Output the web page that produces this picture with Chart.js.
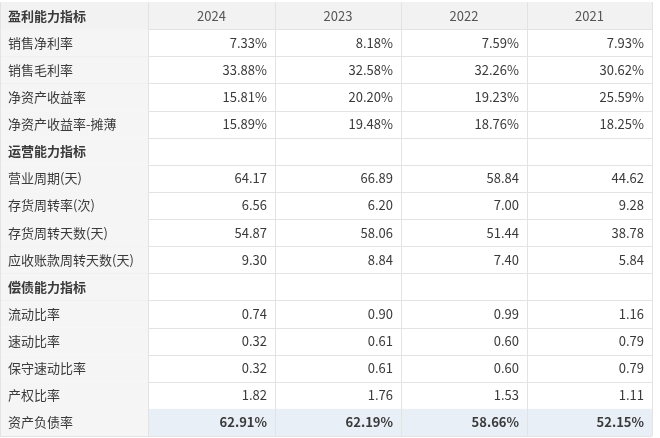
<!DOCTYPE html>
<html><head><meta charset="utf-8">
<script src="https://cdn.jsdelivr.net/npm/chart.js@4"></script>
<style>html,body{margin:0;background:#fff}#wrap{width:660px;height:438px}</style>
</head><body><div id="wrap"><canvas id="c"></canvas></div>
<script>
const years = ['2024', '2023', '2022', '2021'];
const rowLabels = ['盈利能力指标', '销售净利率', '销售毛利率', '净资产收益率', '净资产收益率-摊薄',
  '运营能力指标', '营业周期(天)', '存货周转率(次)', '存货周转天数(天)', '应收账款周转天数(天)',
  '偿债能力指标', '流动比率', '速动比率', '保守速动比率', '产权比率', '资产负债率'];
const sectionRows = [0, 5, 10];
const v2024 = ['', '7.33%', '33.88%', '15.81%', '15.89%', '', '64.17', '6.56', '54.87', '9.30', '', '0.74', '0.32', '0.32', '1.82', '62.91%'];
const v2023 = ['', '8.18%', '32.58%', '20.20%', '19.48%', '', '66.89', '6.20', '58.06', '8.84', '', '0.90', '0.61', '0.61', '1.76', '62.19%'];
const v2022 = ['', '7.59%', '32.26%', '19.23%', '18.76%', '', '58.84', '7.00', '51.44', '7.40', '', '0.99', '0.60', '0.60', '1.53', '58.66%'];
const v2021 = ['', '7.93%', '30.62%', '25.59%', '18.25%', '', '44.62', '9.28', '38.78', '5.84', '', '1.16', '0.79', '0.79', '1.11', '52.15%'];
const columns = [v2024, v2023, v2022, v2021];

const colEdges = [0, 148, 275, 401, 527, 652];
const FONT = '"Microsoft YaHei","Noto Sans CJK SC",sans-serif';

const tablePlugin = {
  id: 'table',
  afterDraw(chart) {
    const ctx = chart.ctx, xs = chart.scales.x, ys = chart.scales.y;
    const n = rowLabels.length;
    const rowH = ys.getPixelForValue(1) - ys.getPixelForValue(0);
    const X = colEdges.map(e => xs.getPixelForValue(e));
    ctx.save();
    for (let r = 0; r < n; r++) {
      const cy = ys.getPixelForValue(r), top = cy - rowH / 2;
      // backgrounds
      if (r === 0) { ctx.fillStyle = '#f2f2f2'; ctx.fillRect(X[0], top, X[5] - X[0], rowH); }
      if (sectionRows.includes(r) && r) { ctx.fillStyle = '#f5f5f5'; ctx.fillRect(X[0], top, X[1] - X[0], rowH); }
      if (r !== 0 && !sectionRows.includes(r)) { ctx.fillStyle = '#f5f5f5'; ctx.fillRect(X[0], top, X[1] - X[0], rowH); }
      if (r === n - 1) { ctx.fillStyle = '#e9eff7'; ctx.fillRect(X[1], top, X[5] - X[1], rowH); }
      // label
      const bold = sectionRows.includes(r);
      ctx.fillStyle = '#3a3a3a';
      ctx.textBaseline = 'middle';
      ctx.textAlign = 'left';
      ctx.font = (bold ? 'bold ' : '') + '13px ' + FONT;
      ctx.fillText(rowLabels[r], X[0] + 8, cy);
      // values
      for (let c = 0; c < 4; c++) {
        if (r === 0) {
          ctx.textAlign = 'center'; ctx.font = '13px ' + FONT; ctx.fillStyle = '#555';
          ctx.fillText(years[c], (X[c + 1] + X[c + 2]) / 2, cy);
        } else {
          ctx.textAlign = 'right';
          ctx.font = (r === n - 1 ? 'bold ' : '') + '13px ' + FONT;
          ctx.fillStyle = '#3a3a3a';
          ctx.fillText(columns[c][r], X[c + 2] - 8, cy);
        }
      }
      // horizontal lines
      ctx.strokeStyle = '#e3e3e3'; ctx.lineWidth = 1;
      ctx.beginPath(); ctx.moveTo(X[0], Math.round(top + rowH) + 0.5); ctx.lineTo(X[5], Math.round(top + rowH) + 0.5); ctx.stroke();
    }
    const t0 = ys.getPixelForValue(0) - rowH / 2, t1 = ys.getPixelForValue(n - 1) + rowH / 2;
    ctx.strokeStyle = '#e3e3e3';
    X.forEach(x => { ctx.beginPath(); ctx.moveTo(Math.round(x) + 0.5, t0); ctx.lineTo(Math.round(x) + 0.5, t1); ctx.stroke(); });
    ctx.restore();
  }
};

new Chart(document.getElementById('c'), {
  type: 'bar',
  data: { labels: rowLabels, datasets: [{ data: rowLabels.map(() => null) }] },
  options: {
    indexAxis: 'y', responsive: true, maintainAspectRatio: false, animation: false,
    layout: { padding: { top: 2, bottom: 2, left: 0, right: 0 } },
    plugins: { legend: { display: false }, tooltip: { enabled: false } },
    scales: {
      x: { type: 'linear', min: 0, max: 660, display: false },
      y: { display: false }
    }
  },
  plugins: [tablePlugin]
});
</script></body></html>
